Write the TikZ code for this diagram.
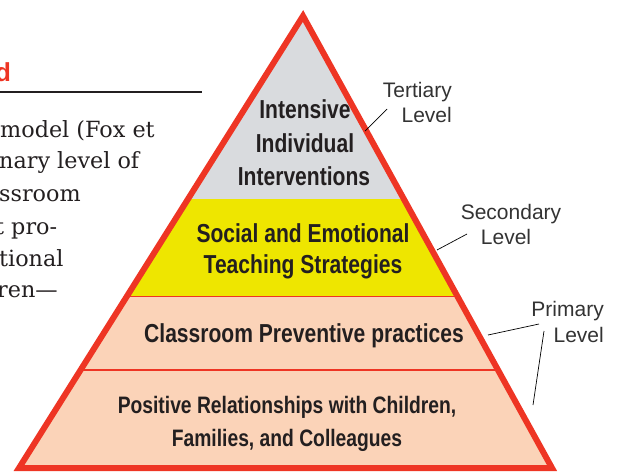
\documentclass[tikz,border=0pt]{standalone}
\usepackage{fontspec}
\setmainfont{DejaVu Serif}
\newfontfamily\pyrfont[FakeStretch=0.81]{Liberation Sans Bold}
\newfontfamily\lblfont{Liberation Sans}
\newfontfamily\headfont{Liberation Sans Bold}
\definecolor{pyrred}{HTML}{EE3524}
\definecolor{tgray}{HTML}{D9DBDE}
\definecolor{tyellow}{HTML}{EEE600}
\definecolor{tpeach}{HTML}{FBD3B8}
\definecolor{ink}{HTML}{231F20}
\definecolor{lblink}{HTML}{333333}
\tikzset{
  tiertext/.style={font=\pyrfont\fontsize{26}{26}\selectfont, text=ink, anchor=base, inner sep=0pt},
  basetext/.style={font=\pyrfont\fontsize{23.8}{23.8}\selectfont, text=ink, anchor=base, inner sep=0pt},
  lvl/.style={font=\lblfont\fontsize{21}{21}\selectfont, text=lblink, inner sep=0pt},
  body/.style={font=\fontsize{22.3}{22.3}\selectfont, text=ink, anchor=base west, inner sep=0pt},
  leader/.style={draw=black, line width=0.7pt}
}
\begin{document}
\begin{tikzpicture}[x=1pt,y=-1pt]
\useasboundingbox (0,0) rectangle (620,472);
\clip (0,0) rectangle (620,472);
% triangle corners
\coordinate (A) at (303,16);
\coordinate (L) at (19,468);
\coordinate (R) at (552,468);
% fills
\begin{scope}
  \clip (A) -- (L) -- (R) -- cycle;
  \fill[tgray] (0,0) rectangle (620,199);
  \fill[tyellow] (0,199) rectangle (620,296);
  \fill[tpeach] (0,296) rectangle (620,472);
  \draw[pyrred, line width=1pt] (0,296) -- (620,296);
  \draw[pyrred, line width=2pt] (0,370) -- (620,370);
\end{scope}
\draw[pyrred, line width=6pt, line join=miter] (A) -- (L) -- (R) -- cycle;
% pyramid texts
\node[tiertext] (t1) at (305,118) {Intensive};
\node[tiertext] (t2) at (305,152) {Individual};
\node[tiertext] (t3) at (304,185) {Interventions};
\node[tiertext] (s1) at (303,242) {Social and Emotional};
\node[tiertext] (s2) at (303,273) {Teaching Strategies};
\node[tiertext] (c1) at (304,342) {Classroom Preventive practices};
\node[basetext] (p1) at (287,413) {Positive Relationships with Children,};
\node[basetext] (p2) at (287,446) {Families, and Colleagues};
% level labels
\node[lvl, anchor=base east] (ter1) at (452,97) {Tertiary};
\node[lvl, anchor=base east] (ter2) at (452,122) {Level};
\node[lvl, anchor=base] (sec1) at (511,219) {Secondary};
\node[lvl, anchor=base] (sec2) at (506,244) {Level};
\node[lvl, anchor=base east] (pri1) at (604,316) {Primary};
\node[lvl, anchor=base east] (pri2) at (604,342) {Level};
% leader lines
\coordinate (tera) at (387,109); \coordinate (terb) at (365,131);
\coordinate (seca) at (467,234); \coordinate (secb) at (437,250);
\coordinate (pria) at (539,324); \coordinate (prib) at (488,335);
\coordinate (pric) at (544,331); \coordinate (prid) at (533,405);
\draw[leader] (tera) -- (terb);
\draw[leader] (seca) -- (secb);
\draw[leader] (pria) -- (prib);
\draw[leader] (pric) -- (prid);
% left column fragment
\node[font=\headfont\fontsize{26}{26}\selectfont, text=pyrred, anchor=base west, inner sep=0pt] (hd) at (-5,81) {d};
\coordinate (rulea) at (0,92); \coordinate (ruleb) at (202,92);
\draw[ink, line width=1.8pt] (rulea) -- (ruleb);
\node[body] (b1) at (0,137) {model (Fox et};
\node[body] (b2) at (-1,168) {nary level of};
\node[body] (b3) at (-1,201) {ssroom};
\node[body] (b4) at (-5,234) {t pro-};
\node[body] (b5) at (-1,266) {tional};
\node[body] (b6) at (-3,297) {ren—};
\end{tikzpicture}
\end{document}
